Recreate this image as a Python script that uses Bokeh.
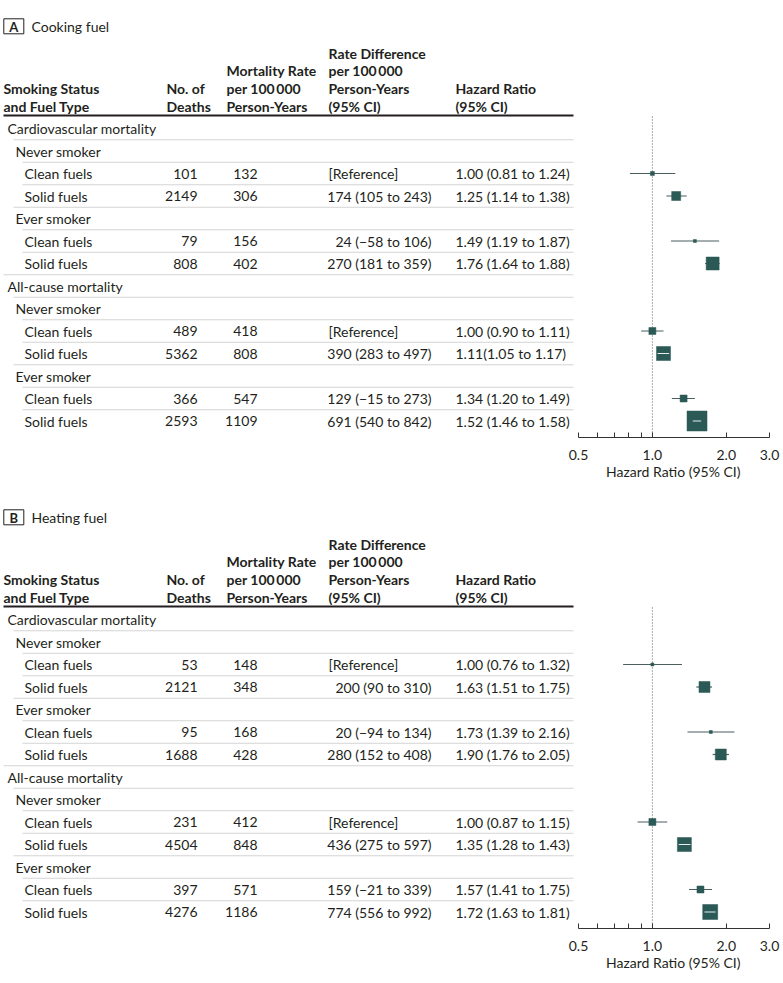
import math
from bokeh.plotting import figure
from bokeh.layouts import column
from bokeh.models import Range1d, LogScale, LogAxis, FixedTicker, PrintfTickFormatter, Title
from bokeh.core.properties import value
from bokeh.embed import file_html
from bokeh.resources import INLINE

# ---------------- data ----------------
outcomes = ["Cardiovascular mortality", "All-cause mortality"]
smoking_groups = ["Never smoker", "Ever smoker"]
fuel_types = ["Clean fuels", "Solid fuels"]

panel_letters = ["A", "B"]
panel_titles = ["Cooking fuel", "Heating fuel"]

header_columns = [
    ["Smoking Status", "and Fuel Type"],
    ["No. of", "Deaths"],
    ["Mortality Rate", "per 100\u2009000", "Person-Years"],
    ["Rate Difference", "per 100\u2009000", "Person-Years", "(95% CI)"],
    ["Hazard Ratio", "(95% CI)"],
]

cook_deaths = [101, 2149, 79, 808, 489, 5362, 366, 2593]
cook_rates = [132, 306, 156, 402, 418, 808, 547, 1109]
cook_rate_diff = ["[Reference]", "174 (105 to 243)", "24 (\u221258 to 106)", "270 (181 to 359)",
                  "[Reference]", "390 (283 to 497)", "129 (\u221215 to 273)", "691 (540 to 842)"]
cook_hr = [1.00, 1.25, 1.49, 1.76, 1.00, 1.11, 1.34, 1.52]
cook_lo = [0.81, 1.14, 1.19, 1.64, 0.90, 1.05, 1.20, 1.46]
cook_hi = [1.24, 1.38, 1.87, 1.88, 1.11, 1.17, 1.49, 1.58]
cook_hr_text = ["1.00 (0.81 to 1.24)", "1.25 (1.14 to 1.38)", "1.49 (1.19 to 1.87)", "1.76 (1.64 to 1.88)",
                "1.00 (0.90 to 1.11)", "1.11(1.05 to 1.17)", "1.34 (1.20 to 1.49)", "1.52 (1.46 to 1.58)"]

heat_deaths = [53, 2121, 95, 1688, 231, 4504, 397, 4276]
heat_rates = [148, 348, 168, 428, 412, 848, 571, 1186]
heat_rate_diff = ["[Reference]", "200 (90 to 310)", "20 (\u221294 to 134)", "280 (152 to 408)",
                  "[Reference]", "436 (275 to 597)", "159 (\u221221 to 339)", "774 (556 to 992)"]
heat_hr = [1.00, 1.63, 1.73, 1.90, 1.00, 1.35, 1.57, 1.72]
heat_lo = [0.76, 1.51, 1.39, 1.76, 0.87, 1.28, 1.41, 1.63]
heat_hi = [1.32, 1.75, 2.16, 2.05, 1.15, 1.43, 1.75, 1.81]
heat_hr_text = ["1.00 (0.76 to 1.32)", "1.63 (1.51 to 1.75)", "1.73 (1.39 to 2.16)", "1.90 (1.76 to 2.05)",
                "1.00 (0.87 to 1.15)", "1.35 (1.28 to 1.43)", "1.57 (1.41 to 1.75)", "1.72 (1.63 to 1.81)"]

hr_ticks = [0.5, 1.0, 2.0, 3.0]
hr_minor_ticks = [0.6, 0.7, 0.8, 0.9]
hr_tick_labels = ["0.5", "1.0", "2.0", "3.0"]
axis_title = "Hazard Ratio (95% CI)"
reference_hr = 1.0

# ---------------- style ----------------
FONT = value("Lato")
FS = "14px"
TXT = "#231f20"
SQ = "#2a5956"
CI_COL = "#4a5f5e"
SEP_COL = "#d4d4d4"

# marker side lengths in px (study weights)
cook_marker_px = [4, 9, 3, 13, 7, 14, 7, 20]
heat_marker_px = [3, 11, 3, 11, 7, 14, 7, 15]

W = 783
X0, X1 = 0, 783           # table coordinate range (= page px)
Y_TOP, Y_AXIS = 0, 437
ROW0, ROW_STEP = 128, 22.5
INDENT = {0: 7, 1: 15, 2: 24}
LINE_X0 = {0: 3, 1: 13, 2: 22}
LINE_X1 = 573
HDR_LINE_Y = 115
HDR_X = [3, 166, 226, 328, 455]
HDR_LAST_Y, HDR_STEP = 106, 17.8
X_DEATHS, X_RATE, X_RD_L, X_RD_R, X_HR = 197, 257, 328, 431, 455
HR_LEFT_X, HR_RIGHT_X = 578, 769
AXIS_TITLE_W = 136        # approx. rendered width of the axis title (px)
K_LN = (HR_RIGHT_X - HR_LEFT_X) / math.log(hr_ticks[-1] / hr_ticks[0])
HR_START = hr_ticks[0] * math.exp(-(HR_LEFT_X - X0) / K_LN)
HR_END = hr_ticks[-1] * math.exp((X1 - HR_RIGHT_X) / K_LN)
PX_SCALE = W / (X1 - X0)


def make_panel(letter, title, deaths, rates, rdiff, hr, lo, hi, hr_text, msize, bottom):
    h = (Y_AXIS - Y_TOP) + bottom
    p = figure(width=W, height=h, x_range=Range1d(X0, X1), y_range=Range1d(Y_AXIS, Y_TOP),
               output_backend="svg", toolbar_location=None,
               x_axis_location=None, y_axis_location=None, min_border=0)
    p.min_border_bottom = bottom
    p.extra_x_ranges = {"hr": Range1d(HR_START, HR_END)}
    p.extra_x_scales = {"hr": LogScale()}
    p.outline_line_color = None
    p.grid.visible = False
    p.background_fill_color = "white"
    p.border_fill_color = "white"

    # panel label
    p.rect(x=[13.3], y=[25.8], width=[20], height=[15], fill_color=None, line_color=TXT, line_width=1)
    p.text(x=[13.3], y=[26], text=[letter], text_font=FONT, text_font_size="13px", text_font_style="bold",
           text_align="center", text_baseline="middle", text_color=TXT)
    p.text(x=[31], y=[26], text=[title], text_font=FONT, text_font_size=FS,
           text_align="left", text_baseline="middle", text_color=TXT)

    # column headers
    hx, hy, ht = [], [], []
    for j, lines in enumerate(header_columns):
        n = len(lines)
        for m, line in enumerate(lines):
            hx.append(HDR_X[j])
            hy.append(HDR_LAST_Y - HDR_STEP * (n - 1 - m))
            ht.append(line)
    p.text(x=hx, y=hy, text=ht, text_font=FONT, text_font_size=FS, text_font_style="bold",
           text_align="left", text_baseline="middle", text_color=TXT)
    p.segment(x0=[3], y0=[HDR_LINE_Y], x1=[LINE_X1], y1=[HDR_LINE_Y], line_color=TXT, line_width=2)

    # rows
    rows = []
    k = 0
    for o in outcomes:
        rows.append((o, 0, None))
        for s in smoking_groups:
            rows.append((s, 1, None))
            for f in fuel_types:
                rows.append((f, 2, k))
                k += 1
    ys_all = [ROW0 + ROW_STEP * i for i in range(len(rows))]

    # separator lines
    sx0, sy = [], []
    for i in range(len(rows) - 1):
        sx0.append(LINE_X0[rows[i + 1][1]])
        sy.append(ys_all[i] + ROW_STEP / 2)
    p.segment(x0=sx0, y0=sy, x1=[LINE_X1] * len(sy), y1=sy, line_color=SEP_COL, line_width=1)

    p.text(x=[INDENT[r[1]] for r in rows], y=ys_all, text=[r[0] for r in rows], text_font=FONT,
           text_font_size=FS, text_align="left", text_baseline="middle", text_color=TXT)

    ys = [ys_all[i] for i, r in enumerate(rows) if r[2] is not None]
    n = len(ys)
    p.text(x=[X_DEATHS] * n, y=ys, text=[str(d) for d in deaths], text_font=FONT, text_font_size=FS,
           text_align="right", text_baseline="middle", text_color=TXT)
    p.text(x=[X_RATE] * n, y=ys, text=[str(r) for r in rates], text_font=FONT, text_font_size=FS,
           text_align="right", text_baseline="middle", text_color=TXT)
    is_ref = [t.startswith("[") for t in rdiff]
    p.text(x=[X_RD_L if r else X_RD_R for r in is_ref], y=ys, text=rdiff, text_font=FONT, text_font_size=FS,
           text_align=["left" if r else "right" for r in is_ref], text_baseline="middle", text_color=TXT)
    p.text(x=[X_HR] * n, y=ys, text=hr_text, text_font=FONT, text_font_size=FS,
           text_align="left", text_baseline="middle", text_color=TXT)

    # forest plot
    p.segment(x0=[reference_hr], x1=[reference_hr], y0=[HDR_LINE_Y + 1], y1=[Y_AXIS], x_range_name="hr",
              line_color="#555555", line_width=1, line_dash="1 2")
    p.segment(x0=lo, x1=hi, y0=ys, y1=ys, x_range_name="hr", line_color=CI_COL, line_width=1.2)
    p.scatter(x=hr, y=ys, size=msize, marker="square", fill_color=SQ, line_color=SQ, line_width=0.5,
              x_range_name="hr")
    wx0, wx1, wy = [], [], []
    for a, b, yy, s in zip(lo, hi, ys, msize):
        if K_LN * PX_SCALE * math.log(b / a) < s - 1:
            wx0.append(a)
            wx1.append(b)
            wy.append(yy)
    if wy:
        p.segment(x0=wx0, x1=wx1, y0=wy, y1=wy, x_range_name="hr", line_color="#e8eeee", line_width=1.2)

    ax = LogAxis(x_range_name="hr", ticker=FixedTicker(ticks=hr_ticks, minor_ticks=hr_minor_ticks),
                 bounds=(hr_ticks[0], hr_ticks[-1]))
    ax.formatter = PrintfTickFormatter(format="%.1f")
    ax.major_label_overrides = dict(zip(hr_ticks, hr_tick_labels))
    ax.axis_line_color = "#333333"
    ax.major_tick_line_color = "#333333"
    ax.minor_tick_line_color = "#333333"
    ax.major_tick_in = 5
    ax.major_tick_out = 0
    ax.minor_tick_in = 5
    ax.minor_tick_out = 0
    ax.major_label_standoff = 12
    ax.major_label_text_font = "Lato"
    ax.major_label_text_font_size = FS
    ax.major_label_text_color = TXT
    p.add_layout(ax, "below")

    # axis title centred under the bounded log axis
    centre_px = (HR_LEFT_X + HR_RIGHT_X) / 2
    p.add_layout(Title(text=axis_title, align="left", offset=centre_px - AXIS_TITLE_W / 2,
                       vertical_align="top", standoff=0, text_font="Lato", text_font_size=FS,
                       text_font_style="normal", text_color=TXT), "below")
    return p


pA = make_panel(panel_letters[0], panel_titles[0], cook_deaths, cook_rates, cook_rate_diff,
                cook_hr, cook_lo, cook_hi, cook_hr_text, cook_marker_px, 54)
pB = make_panel(panel_letters[1], panel_titles[1], heat_deaths, heat_rates, heat_rate_diff,
                heat_hr, heat_lo, heat_hi, heat_hr_text, heat_marker_px, 53)

layout = column(pA, pB, spacing=0)
open("out.html", "w").write(file_html(layout, INLINE))
